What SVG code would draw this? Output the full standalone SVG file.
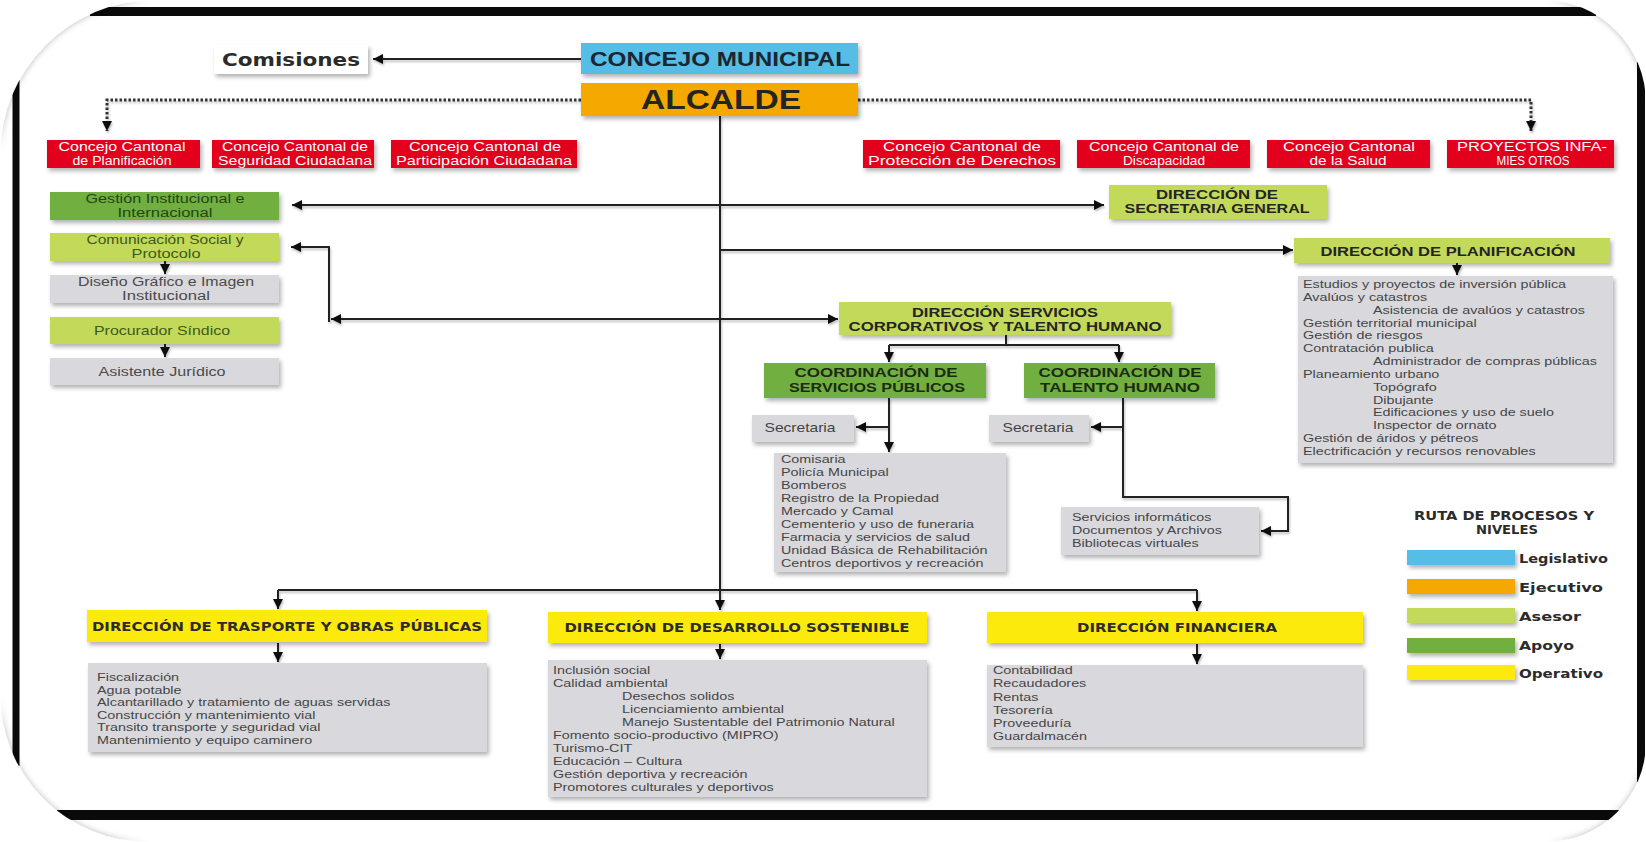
<svg xmlns="http://www.w3.org/2000/svg" width="1646" height="842" viewBox="0 0 1646 842">
  <style>
    .box { filter: url(#sh); }
    .red { fill: #E2001A; }
    .lg { fill: #C3D95A; }
    .dg { fill: #6FAF3F; }
    .gy { fill: #D9D9DD; }
    .yl { fill: #FCEA10; }
    .rd { font-family: 'Liberation Sans', Arial, sans-serif; font-size: 12px; fill: #ffffff; text-anchor: middle; }
    .gt { font-family: 'Liberation Sans', Arial, sans-serif; font-size: 12px; text-anchor: middle; }
    .hd { font-family: 'Liberation Sans', Arial, sans-serif; font-weight: 700; font-size: 12.5px; text-anchor: middle; fill: #242424; }
    .wb { font-family: 'DejaVu Sans', sans-serif; font-weight: 700; fill: #2b2b2b; }
    .lst { font-family: 'Liberation Sans', Arial, sans-serif; font-size: 10.8px; fill: #454545; }
    .ln { fill: none; stroke: #222; stroke-width: 2; }
    .dot { fill: none; stroke: #333; stroke-width: 3; stroke-dasharray: 2.5 2; }
    .band { fill: none; stroke: #0a0a0a; }
  </style>
  <defs>
    <filter id="sh" x="-10%" y="-30%" width="120%" height="170%">
      <feDropShadow dx="2" dy="3" stdDeviation="2" flood-color="#000" flood-opacity="0.3"/>
    </filter>
    <filter id="lsh" x="-5%" y="-5%" width="110%" height="110%">
      <feDropShadow dx="1" dy="2" stdDeviation="1" flood-color="#000" flood-opacity="0.25"/>
    </filter>
    <filter id="csh" x="-5%" y="-5%" width="110%" height="110%">
      <feDropShadow dx="0" dy="0" stdDeviation="3" flood-color="#000" flood-opacity="0.3"/>
    </filter>
    <marker id="ah" viewBox="0 0 10 10" refX="10" refY="5" markerWidth="10" markerHeight="10" markerUnits="userSpaceOnUse" orient="auto-start-reverse">
      <path d="M0,0 L10,5 L0,10 Z" fill="#111"/>
    </marker>
  </defs>

  <rect x="0" y="0" width="1646" height="842" fill="#ffffff"/>

  <!-- outer frame: four bands, corners rounded off by white patches -->
  <g id="frame">
    <path class="band" stroke-width="9" d="M90,11.5 H1596"/>
    <path class="band" stroke-width="7" d="M16,80 V766"/>
    <path class="band" stroke-width="8" d="M1641,62 V782"/>
    <path class="band" stroke-width="10" d="M57,815 H1620"/>
    <path filter="url(#csh)" fill="#ffffff" fill-rule="evenodd"
      d="M0,0 H1646 V842 H0 Z M155,0 H1543 A103,103 0 0 1 1646,103 V742 A100,100 0 0 1 1546,842 H148 A148,148 0 0 1 0,694 V155 A155,155 0 0 1 155,0 Z"/>
  </g>

  <!-- connectors -->
  <g id="connectors" filter="url(#lsh)">
    <path class="ln" d="M581,59 H373" marker-end="url(#ah)"/>
    <path class="dot" d="M581,100 H107 V131" marker-end="url(#ah)"/>
    <path class="dot" d="M858,100 H1531 V131" marker-end="url(#ah)"/>
    <path class="ln" d="M720,116 V610" marker-end="url(#ah)"/>
    <path class="ln" d="M292,205 H1104" marker-start="url(#ah)" marker-end="url(#ah)"/>
    <path class="ln" d="M720,250 H1293" marker-end="url(#ah)"/>
    <path class="ln" d="M331,319 H838" marker-start="url(#ah)" marker-end="url(#ah)"/>
    <path class="ln" d="M329,322 V247 H291" marker-end="url(#ah)"/>
    <path class="ln" d="M165,261 V274" marker-end="url(#ah)"/>
    <path class="ln" d="M165,344 V357" marker-end="url(#ah)"/>
    <path class="ln" d="M1457,263 V275" marker-end="url(#ah)"/>
    <path class="ln" d="M1006,335 V345 M889,345 H1119"/>
    <path class="ln" d="M889,345 V362" marker-end="url(#ah)"/>
    <path class="ln" d="M1119,345 V362" marker-end="url(#ah)"/>
    <path class="ln" d="M889,398 V452" marker-end="url(#ah)"/>
    <path class="ln" d="M889,427 H856" marker-end="url(#ah)"/>
    <path class="ln" d="M1123,398 V497 H1288 V531 H1261" marker-end="url(#ah)"/>
    <path class="ln" d="M1123,427 H1091" marker-end="url(#ah)"/>
    <path class="ln" d="M278,590 H1197"/>
    <path class="ln" d="M278,590 V609" marker-end="url(#ah)"/>
    <path class="ln" d="M1197,590 V611" marker-end="url(#ah)"/>
    <path class="ln" d="M278,643 V662" marker-end="url(#ah)"/>
    <path class="ln" d="M720,644 V659" marker-end="url(#ah)"/>
    <path class="ln" d="M1197,644 V664" marker-end="url(#ah)"/>
  </g>

  <!-- legislative / executive -->
  <g id="comisiones">
    <rect class="box" x="214" y="45" width="154" height="29" fill="#ffffff"/>
    <text class="wb" x="222" y="66" style="font-size:18px" textLength="138" lengthAdjust="spacingAndGlyphs">Comisiones</text>
  </g>
  <g id="concejo-municipal">
    <rect class="box" x="581" y="43" width="277" height="31" fill="#55BDE6"/>
    <text class="hd" x="720" y="66" style="font-size:21px; fill:#1c2630" textLength="260" lengthAdjust="spacingAndGlyphs">CONCEJO MUNICIPAL</text>
  </g>
  <g id="alcalde">
    <rect class="box" x="581" y="83" width="277" height="33" fill="#F5A800"/>
    <text class="hd" x="721" y="109" style="font-size:28px" textLength="160" lengthAdjust="spacingAndGlyphs">ALCALDE</text>
  </g>

  <!-- cantonal councils -->
  <g id="cc-planificacion">
    <rect class="box red" x="47" y="140" width="153" height="28"/>
    <text class="rd" x="122" y="151.3" textLength="127" lengthAdjust="spacingAndGlyphs">Concejo Cantonal</text>
    <text class="rd" x="122" y="165.3" textLength="99" lengthAdjust="spacingAndGlyphs">de Planificación</text>
  </g>
  <g id="cc-seguridad">
    <rect class="box red" x="212" y="140" width="162" height="28"/>
    <text class="rd" x="295" y="151.3" textLength="146" lengthAdjust="spacingAndGlyphs">Concejo Cantonal de</text>
    <text class="rd" x="295" y="165.3" textLength="154" lengthAdjust="spacingAndGlyphs">Seguridad Ciudadana</text>
  </g>
  <g id="cc-participacion">
    <rect class="box red" x="391" y="140" width="186" height="28"/>
    <text class="rd" x="485" y="151.3" textLength="152" lengthAdjust="spacingAndGlyphs">Concejo Cantonal de</text>
    <text class="rd" x="484" y="165.3" textLength="176" lengthAdjust="spacingAndGlyphs">Participación Ciudadana</text>
  </g>
  <g id="cc-derechos">
    <rect class="box red" x="863" y="140" width="197" height="28"/>
    <text class="rd" x="962" y="151.3" textLength="158" lengthAdjust="spacingAndGlyphs">Concejo Cantonal de</text>
    <text class="rd" x="962" y="165.3" textLength="188" lengthAdjust="spacingAndGlyphs">Protección de Derechos</text>
  </g>
  <g id="cc-discapacidad">
    <rect class="box red" x="1077" y="140" width="173" height="28"/>
    <text class="rd" x="1164" y="151.3" textLength="150" lengthAdjust="spacingAndGlyphs">Concejo Cantonal de</text>
    <text class="rd" x="1164" y="165.3" textLength="82" lengthAdjust="spacingAndGlyphs">Discapacidad</text>
  </g>
  <g id="cc-salud">
    <rect class="box red" x="1267" y="140" width="163" height="28"/>
    <text class="rd" x="1349" y="151.3" textLength="132" lengthAdjust="spacingAndGlyphs">Concejo Cantonal</text>
    <text class="rd" x="1348" y="165.3" textLength="77" lengthAdjust="spacingAndGlyphs">de la Salud</text>
  </g>
  <g id="proyectos">
    <rect class="box red" x="1447" y="140" width="167" height="28"/>
    <text class="rd" x="1532" y="151.3" textLength="150" lengthAdjust="spacingAndGlyphs">PROYECTOS INFA-</text>
    <text class="rd" x="1533" y="165.3" textLength="73" lengthAdjust="spacingAndGlyphs">MIES OTROS</text>
  </g>

  <!-- advisory and support units -->
  <g id="gestion-institucional">
    <rect class="box dg" x="50" y="192" width="229" height="28"/>
    <text class="gt" x="165" y="203" fill="#24451a" textLength="159" lengthAdjust="spacingAndGlyphs">Gestión Institucional e</text>
    <text class="gt" x="165" y="217" fill="#24451a" textLength="95" lengthAdjust="spacingAndGlyphs">Internacional</text>
  </g>
  <g id="comunicacion-social">
    <rect class="box lg" x="50" y="233" width="229" height="28"/>
    <text class="gt" x="165" y="244" fill="#3e5a1c" textLength="157" lengthAdjust="spacingAndGlyphs">Comunicación Social y</text>
    <text class="gt" x="166" y="258" fill="#3e5a1c" textLength="69" lengthAdjust="spacingAndGlyphs">Protocolo</text>
  </g>
  <g id="diseno-grafico">
    <rect class="box gy" x="50" y="275" width="229" height="28"/>
    <text class="gt" x="166" y="286" fill="#4a4a4a" textLength="176" lengthAdjust="spacingAndGlyphs">Diseño Gráfico e Imagen</text>
    <text class="gt" x="166" y="300" fill="#4a4a4a" textLength="88" lengthAdjust="spacingAndGlyphs">Institucional</text>
  </g>
  <g id="procurador-sindico">
    <rect class="box lg" x="50" y="317" width="229" height="27"/>
    <text class="gt" x="162" y="335" style="font-size:13px" fill="#3e5a1c" textLength="136" lengthAdjust="spacingAndGlyphs">Procurador Síndico</text>
  </g>
  <g id="asistente-juridico">
    <rect class="box gy" x="50" y="358" width="229" height="27"/>
    <text class="gt" x="162" y="376" style="font-size:13px" fill="#4a4a4a" textLength="127" lengthAdjust="spacingAndGlyphs">Asistente Jurídico</text>
  </g>

  <g id="secretaria-general">
    <rect class="box lg" x="1109" y="185" width="218" height="34"/>
    <text class="hd" x="1217" y="198.5" textLength="122" lengthAdjust="spacingAndGlyphs">DIRECCIÓN DE</text>
    <text class="hd" x="1217" y="213" textLength="185" lengthAdjust="spacingAndGlyphs">SECRETARIA GENERAL</text>
  </g>

  <g id="planificacion">
    <rect class="box lg" x="1294" y="238" width="316" height="25"/>
    <text class="hd" x="1448" y="255.5" style="font-size:13.5px" textLength="255" lengthAdjust="spacingAndGlyphs">DIRECCIÓN DE PLANIFICACIÓN</text>
  </g>
  <g id="planificacion-unidades">
    <rect class="box gy" x="1298" y="276" width="315" height="187"/>
    <g transform="translate(1303,0) scale(1.33,1)">
      <text class="lst" x="0" y="288">Estudios y proyectos de inversión pública</text>
      <text class="lst" x="0" y="300.9">Avalúos y catastros</text>
      <text class="lst" x="52.6" y="313.7">Asistencia de avalúos y catastros</text>
      <text class="lst" x="0" y="326.6">Gestión territorial municipal</text>
      <text class="lst" x="0" y="339.4">Gestión de riesgos</text>
      <text class="lst" x="0" y="352.3">Contratación publica</text>
      <text class="lst" x="52.6" y="365.1">Administrador de compras públicas</text>
      <text class="lst" x="0" y="378">Planeamiento urbano</text>
      <text class="lst" x="52.6" y="390.8">Topógrafo</text>
      <text class="lst" x="52.6" y="403.7">Dibujante</text>
      <text class="lst" x="52.6" y="416.5">Edificaciones y uso de suelo</text>
      <text class="lst" x="52.6" y="429.4">Inspector de ornato</text>
      <text class="lst" x="0" y="442.2">Gestión de áridos y pétreos</text>
      <text class="lst" x="0" y="455.1">Electrificación y recursos renovables</text>
    </g>
  </g>

  <g id="servicios-corporativos">
    <rect class="box lg" x="839" y="302" width="332" height="33"/>
    <text class="hd" x="1005" y="316.5" style="font-size:12px" textLength="186" lengthAdjust="spacingAndGlyphs">DIRECCIÓN SERVICIOS</text>
    <text class="hd" x="1005" y="330.5" style="font-size:12px" textLength="313" lengthAdjust="spacingAndGlyphs">CORPORATIVOS Y TALENTO HUMANO</text>
  </g>
  <g id="coord-servicios-publicos">
    <rect class="box dg" x="764" y="363" width="222" height="35"/>
    <text class="hd" x="876" y="377" style="fill:#1c2a12" textLength="163" lengthAdjust="spacingAndGlyphs">COORDINACIÓN DE</text>
    <text class="hd" x="877" y="392" style="fill:#1c2a12" textLength="176" lengthAdjust="spacingAndGlyphs">SERVICIOS PÚBLICOS</text>
  </g>
  <g id="coord-talento-humano">
    <rect class="box dg" x="1024" y="363" width="191" height="35"/>
    <text class="hd" x="1120" y="377" style="fill:#1c2a12" textLength="163" lengthAdjust="spacingAndGlyphs">COORDINACIÓN DE</text>
    <text class="hd" x="1120" y="392" style="fill:#1c2a12" textLength="160" lengthAdjust="spacingAndGlyphs">TALENTO HUMANO</text>
  </g>
  <g id="secretaria-sp">
    <rect class="box gy" x="752" y="415" width="102" height="27"/>
    <text class="gt" x="800" y="432" style="font-size:13px" fill="#444" textLength="71" lengthAdjust="spacingAndGlyphs">Secretaria</text>
  </g>
  <g id="secretaria-th">
    <rect class="box gy" x="989" y="415" width="100" height="27"/>
    <text class="gt" x="1038" y="432" style="font-size:13px" fill="#444" textLength="71" lengthAdjust="spacingAndGlyphs">Secretaria</text>
  </g>
  <g id="servicios-publicos-unidades">
    <rect class="box gy" x="774" y="453" width="232" height="119"/>
    <g transform="translate(781,0) scale(1.33,1)">
      <text class="lst" x="0" y="463">Comisaria</text>
      <text class="lst" x="0" y="476">Policía Municipal</text>
      <text class="lst" x="0" y="489">Bomberos</text>
      <text class="lst" x="0" y="502">Registro de la Propiedad</text>
      <text class="lst" x="0" y="515">Mercado y Camal</text>
      <text class="lst" x="0" y="528">Cementerio y uso de funeraria</text>
      <text class="lst" x="0" y="541">Farmacia y servicios de salud</text>
      <text class="lst" x="0" y="554">Unidad Básica de Rehabilitación</text>
      <text class="lst" x="0" y="567">Centros deportivos y recreación</text>
    </g>
  </g>
  <g id="talento-humano-unidades">
    <rect class="box gy" x="1061" y="507" width="198" height="48"/>
    <g transform="translate(1072,0) scale(1.33,1)">
      <text class="lst" x="0" y="521">Servicios informáticos</text>
      <text class="lst" x="0" y="534">Documentos y Archivos</text>
      <text class="lst" x="0" y="547">Bibliotecas virtuales</text>
    </g>
  </g>

  <!-- operative directorates -->
  <g id="trasporte-obras">
    <rect class="box yl" x="87" y="610" width="400" height="32"/>
    <text class="wb" x="287" y="631" font-size="13" text-anchor="middle" textLength="390" lengthAdjust="spacingAndGlyphs" fill="#2a2616">DIRECCIÓN DE TRASPORTE Y OBRAS PÚBLICAS</text>
  </g>
  <g id="trasporte-unidades">
    <rect class="box gy" x="88" y="663" width="399" height="89"/>
    <g transform="translate(97,0) scale(1.33,1)">
      <text class="lst" x="0" y="681">Fiscalización</text>
      <text class="lst" x="0" y="693.6">Agua potable</text>
      <text class="lst" x="0" y="706.2">Alcantarillado y tratamiento de aguas servidas</text>
      <text class="lst" x="0" y="718.8">Construcción y mantenimiento vial</text>
      <text class="lst" x="0" y="731.4">Transito transporte y seguridad vial</text>
      <text class="lst" x="0" y="744">Mantenimiento y equipo caminero</text>
    </g>
  </g>
  <g id="desarrollo-sostenible">
    <rect class="box yl" x="548" y="612" width="379" height="31"/>
    <text class="wb" x="737" y="632" font-size="13" text-anchor="middle" textLength="345" lengthAdjust="spacingAndGlyphs" fill="#2a2616">DIRECCIÓN DE DESARROLLO SOSTENIBLE</text>
  </g>
  <g id="desarrollo-unidades">
    <rect class="box gy" x="548" y="660" width="379" height="137"/>
    <g transform="translate(553,0) scale(1.33,1)">
      <text class="lst" x="0" y="674">Inclusión social</text>
      <text class="lst" x="0" y="687">Calidad ambiental</text>
      <text class="lst" x="51.9" y="700">Desechos solidos</text>
      <text class="lst" x="51.9" y="713">Licenciamiento ambiental</text>
      <text class="lst" x="51.9" y="726">Manejo Sustentable del Patrimonio Natural</text>
      <text class="lst" x="0" y="739">Fomento socio-productivo (MIPRO)</text>
      <text class="lst" x="0" y="752">Turismo-CIT</text>
      <text class="lst" x="0" y="765">Educación – Cultura</text>
      <text class="lst" x="0" y="778">Gestión deportiva y recreación</text>
      <text class="lst" x="0" y="791">Promotores culturales y deportivos</text>
    </g>
  </g>
  <g id="financiera">
    <rect class="box yl" x="987" y="612" width="376" height="31"/>
    <text class="wb" x="1177" y="632" font-size="13" text-anchor="middle" textLength="200" lengthAdjust="spacingAndGlyphs" fill="#2a2616">DIRECCIÓN FINANCIERA</text>
  </g>
  <g id="financiera-unidades">
    <rect class="box gy" x="987" y="665" width="376" height="82"/>
    <g transform="translate(993,0) scale(1.33,1)">
      <text class="lst" x="0" y="674">Contabilidad</text>
      <text class="lst" x="0" y="687.3">Recaudadores</text>
      <text class="lst" x="0" y="700.6">Rentas</text>
      <text class="lst" x="0" y="713.9">Tesorería</text>
      <text class="lst" x="0" y="727.2">Proveeduría</text>
      <text class="lst" x="0" y="740.5">Guardalmacén</text>
    </g>
  </g>

  <!-- levels legend -->
  <g id="leyenda">
    <text class="wb" x="1504" y="520" font-size="12" text-anchor="middle" textLength="180" lengthAdjust="spacingAndGlyphs">RUTA DE PROCESOS Y</text>
    <text class="wb" x="1507" y="534" font-size="12" text-anchor="middle" textLength="62" lengthAdjust="spacingAndGlyphs">NIVELES</text>
    <rect class="box" x="1407" y="550" width="108" height="15" fill="#55BDE6"/>
    <rect class="box" x="1407" y="579" width="108" height="15" fill="#F5A800"/>
    <rect class="box" x="1407" y="608" width="108" height="15" fill="#C3D95A"/>
    <rect class="box" x="1407" y="638" width="108" height="15" fill="#6FAF3F"/>
    <rect class="box" x="1407" y="665" width="108" height="15" fill="#FCEA10"/>
    <text class="wb" x="1519" y="563" font-size="13" textLength="89" lengthAdjust="spacingAndGlyphs">Legislativo</text>
    <text class="wb" x="1519" y="592" font-size="13" textLength="84" lengthAdjust="spacingAndGlyphs">Ejecutivo</text>
    <text class="wb" x="1519" y="621" font-size="13" textLength="62" lengthAdjust="spacingAndGlyphs">Asesor</text>
    <text class="wb" x="1519" y="650" font-size="13" textLength="55" lengthAdjust="spacingAndGlyphs">Apoyo</text>
    <text class="wb" x="1519" y="678" font-size="13" textLength="84" lengthAdjust="spacingAndGlyphs">Operativo</text>
  </g>
</svg>
